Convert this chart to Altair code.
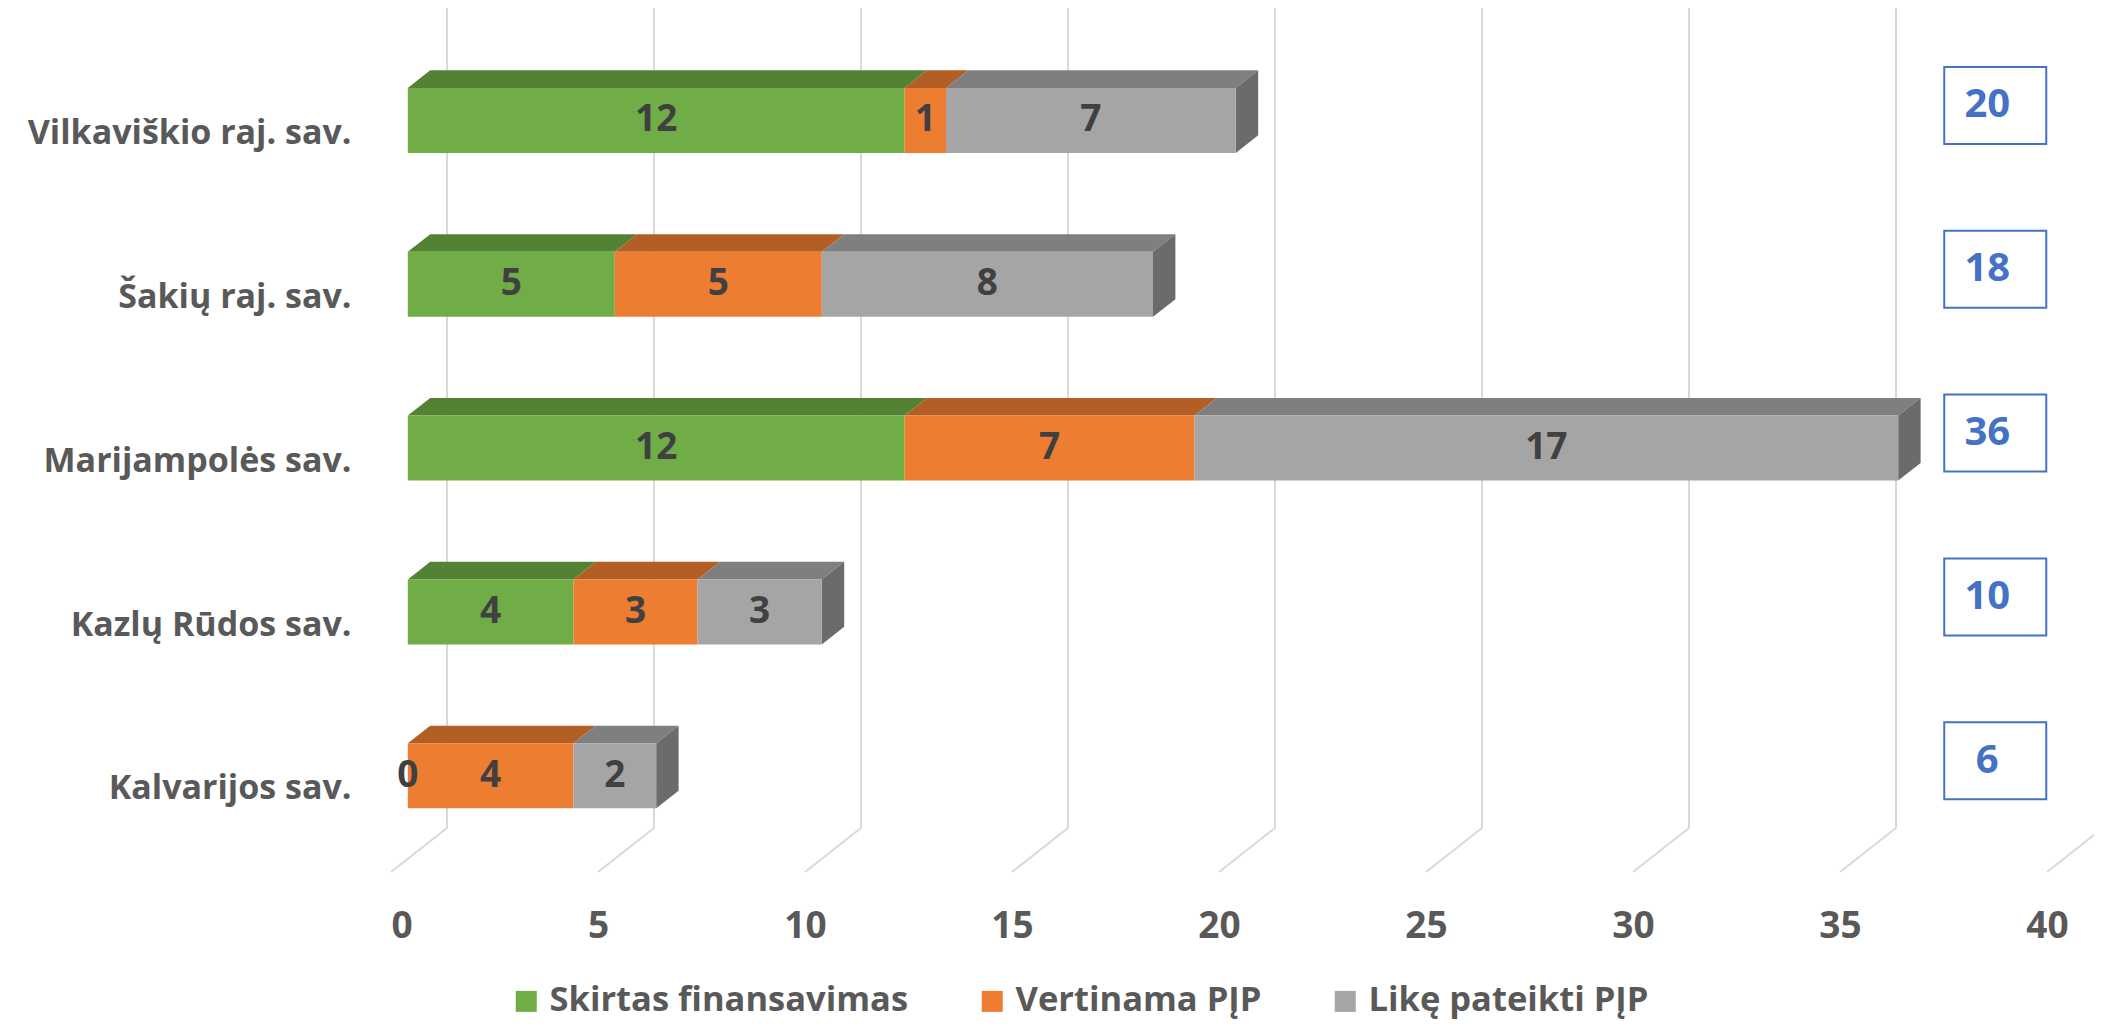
import json
import altair as alt
import pandas as pd

# ---------------- data ----------------
categories = ["Vilkaviškio raj. sav.", "Šakių raj. sav.", "Marijampolės sav.",
              "Kazlų Rūdos sav.", "Kalvarijos sav."]
series = ["Skirtas finansavimas", "Vertinama PĮP", "Likę pateikti PĮP"]
skirtas = [12, 5, 12, 4, 0]
vertinama = [1, 5, 7, 3, 4]
like = [7, 8, 17, 3, 2]
totals = [20, 18, 36, 10, 6]
x_ticks = [0, 5, 10, 15, 20, 25, 30, 35, 40]

# ---------------- style ----------------
FONT = "Open Sans"
front_colors = ["#70AD47", "#ED7D31", "#A5A5A5"]
top_colors = ["#548235", "#B35E24", "#7F7F7F"]
SIDE_COLOR = "#6B6B6B"
GRID_COLOR = "#D9D9D9"
LABEL_GRAY = "#595959"
VALUE_COLOR = "#404040"
BLUE = "#4472C4"

PX_X = 41.4          # px per x unit
PX_Y = 163.8         # px per category step
DX = 56 / PX_X       # full depth shift (x units)
DY = 44 / PX_Y       # full depth shift (y units)
Z0, Z1 = 0.3, 0.7    # bar front / back depth
HALF = 32.5 / PX_Y   # half bar height
FLOOR = 4.507
YTOP = -0.767
XMAX = 1703 / PX_X
PLOT_W, PLOT_H = 1703, 864
TOTAL_X = 38.75
BOXW = 51 / PX_X
BOXH = 38.5 / PX_Y
BOX_DY = -15 / PX_Y

# ---------------- tables ----------------
segs = []
for i, cat in enumerate(categories):
    start = 0
    for k, (s, vals) in enumerate(zip(series, [skirtas, vertinama, like])):
        v = vals[i]
        segs.append(dict(row=i, cat=cat, series=s, k=k, value=v,
                         start=start, end=start + v))
        start += v
seg = pd.DataFrame(segs)
seg["sid"] = seg["row"].astype(str) + "_" + seg["k"].astype(str)

front = seg[seg.value > 0].copy()
front["xf"] = front.start + Z0 * DX
front["xf2"] = front.end + Z0 * DX
front["yt"] = front.row - Z0 * DY - HALF
front["yb"] = front.row - Z0 * DY + HALF

tops = []
for _, r in front.iterrows():
    for z in (Z0, Z1):
        tops.append(dict(sid=r.sid, col=top_colors[r.k],
                         y=r.row - z * DY - HALF,
                         x=r.start + z * DX, x2=r.end + z * DX))
top_df = pd.DataFrame(tops)

sides = []
for i in range(len(categories)):
    end = totals[i]
    for z in (Z0, Z1):
        sides.append(dict(row=i, x=end + z * DX,
                          y=i - z * DY - HALF, y2=i - z * DY + HALF))
side_df = pd.DataFrame(sides)

lab = seg.copy()
lab["x"] = (lab.start + lab.end) / 2 + Z0 * DX
lab["y"] = lab.row - Z0 * DY

tot = pd.DataFrame(dict(row=list(range(len(categories))), total=totals))
tot["x"] = TOTAL_X - BOXW
tot["x2"] = TOTAL_X + BOXW
tot["xc"] = TOTAL_X - 8 / PX_X
tot["yc"] = tot.row - Z0 * DY + BOX_DY
tot["y"] = tot.yc - BOXH
tot["y2"] = tot.yc + BOXH

grid = pd.DataFrame(dict(v=x_ticks))
grid["xb"] = grid.v + DX
grid["ytop"] = YTOP
grid["yback"] = FLOOR - DY
grid["yfront"] = FLOOR

# ---------------- scales & axes ----------------
xscale = alt.Scale(domain=[0, XMAX], nice=False, zero=False)
yscale = alt.Scale(domain=[YTOP, FLOOR], nice=False, zero=False, reverse=True)

xaxis = alt.Axis(values=x_ticks, title=None, domain=False, ticks=False, grid=False,
                 labelFont=FONT, labelFontSize=37, labelFontWeight="bold",
                 labelColor=LABEL_GRAY, labelPadding=36, format="d")
yaxis = alt.Axis(values=list(range(len(categories))), title=None, domain=False,
                 ticks=False, grid=False,
                 labelExpr=json.dumps(categories, ensure_ascii=False) + "[datum.value]",
                 labelFont=FONT, labelFontSize=34, labelFontWeight="bold",
                 labelColor=LABEL_GRAY, labelPadding=40, labelLimit=500)


def X(f):
    return alt.X(f, type="quantitative", scale=xscale, axis=xaxis)


def Y(f):
    return alt.Y(f, type="quantitative", scale=yscale, axis=yaxis)


# ---------------- layers ----------------
wall = alt.Chart(grid).mark_rule(color=GRID_COLOR, strokeWidth=2).encode(
    x=X("xb"), y=Y("ytop"), y2="yback")
floor = alt.Chart(grid).mark_rule(color=GRID_COLOR, strokeWidth=2).encode(
    x=X("xb"), y=Y("yback"), x2="v", y2="yfront")

top_faces = alt.Chart(top_df).mark_area(orient="horizontal").encode(
    y=Y("y"), x=X("x"), x2="x2", detail="sid:N",
    color=alt.Color("col:N", scale=None))

side_faces = alt.Chart(side_df).mark_area(orient="vertical", color=SIDE_COLOR).encode(
    x=X("x"), y=Y("y"), y2="y2", detail="row:N")

front_faces = alt.Chart(front).mark_rect().encode(
    x=X("xf"), x2="xf2", y=Y("yt"), y2="yb",
    color=alt.Color("series:N",
                    scale=alt.Scale(domain=series, range=front_colors),
                    legend=alt.Legend(title=None, orient="none", direction="horizontal",
                                      legendX=118, legendY=976,
                                      symbolType="square", symbolSize=441,
                                      symbolStrokeWidth=0, labelOffset=6,
                                      columnPadding=66,
                                      labelFont=FONT, labelFontSize=34.5,
                                      labelFontWeight="bold", labelColor=LABEL_GRAY,
                                      labelLimit=600)))

values = alt.Chart(lab).mark_text(font=FONT, fontSize=37, fontWeight="bold",
                                  color=VALUE_COLOR, baseline="middle").encode(
    x=X("x"), y=Y("y"), text="value:Q")

boxes = alt.Chart(tot).mark_rect(fill="white", stroke=BLUE, strokeWidth=2).encode(
    x=X("x"), x2="x2", y=Y("y"), y2="y2")

box_text = alt.Chart(tot).mark_text(font=FONT, fontSize=40, fontWeight="bold",
                                    color=BLUE, baseline="middle").encode(
    x=X("xc"), y=Y("yc"), text="total:Q")

chart = alt.layer(wall, floor, top_faces, side_faces, front_faces, values,
                  boxes, box_text).properties(
    width=PLOT_W, height=PLOT_H, autosize="none",
    padding={"left": 383, "top": 0, "right": 0, "bottom": 148},
).configure_view(strokeWidth=0, stroke=None)

chart.save("out.html", embed_options={"renderer": "svg", "actions": False})
